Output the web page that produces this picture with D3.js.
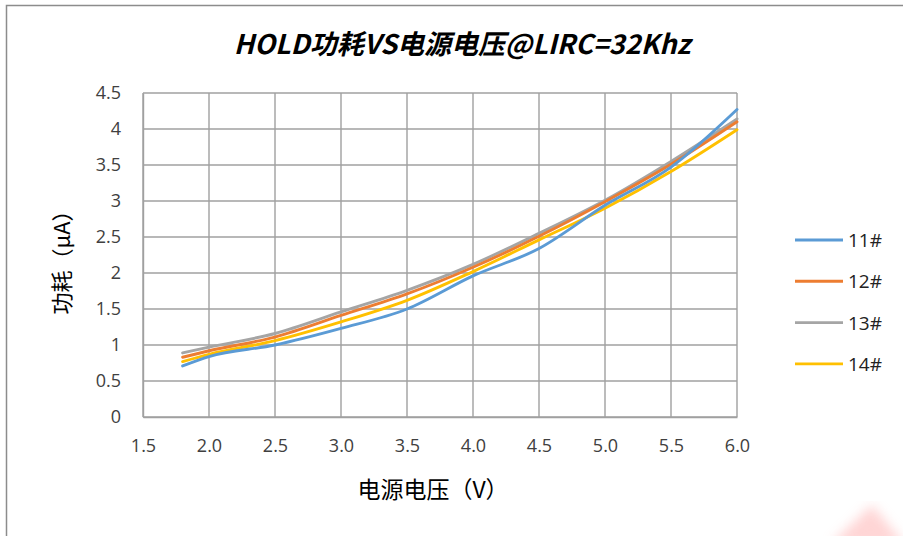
<!DOCTYPE html>
<html><head><meta charset="utf-8">
<script src="https://cdn.jsdelivr.net/npm/d3@7"></script>
<style>body{margin:0;background:#fff}svg{display:block}</style>
</head><body>
<svg id="c" width="903" height="536"></svg>
<script>
const voltages = [1.8, 2.0, 2.5, 3.0, 3.5, 4.0, 4.5, 5.0, 5.5, 6.0];
const s11 = [0.71, 0.84, 1.00, 1.23, 1.50, 1.96, 2.34, 2.94, 3.47, 4.27];
const s12 = [0.83, 0.92, 1.11, 1.41, 1.71, 2.08, 2.51, 2.99, 3.51, 4.10];
const s13 = [0.89, 0.97, 1.16, 1.46, 1.76, 2.12, 2.55, 3.01, 3.55, 4.14];
const s14 = [0.77, 0.87, 1.06, 1.32, 1.62, 2.02, 2.46, 2.90, 3.41, 3.99];
const seriesNames = ["11#", "12#", "13#", "14#"];
const colors = ["#5B9BD5", "#ED7D31", "#A5A5A5", "#FFC000"];
const xTicks = [1.5, 2.0, 2.5, 3.0, 3.5, 4.0, 4.5, 5.0, 5.5, 6.0];
const yTicks = [0, 0.5, 1, 1.5, 2, 2.5, 3, 3.5, 4, 4.5];
const title = "HOLD功耗VS电源电压@LIRC=32Khz";
const xTitle = "电源电压（V）";
const yTitle = "功耗（μA）";

const allSeries = [s11, s12, s13, s14];
const svg = d3.select("#c");
const font = "'Noto Sans CJK SC','Noto Sans',sans-serif";
const numFont = "'Open Sans','Noto Sans',sans-serif";

// faint watermark
const defs = svg.append("defs");
defs.append("filter").attr("id","blur").append("feGaussianBlur").attr("stdDeviation",6);
svg.append("path").attr("d","M830,545 L872,505 L905,545 Z").attr("fill","#ffb3b3").attr("opacity",0.55).attr("filter","url(#blur)");

// outer frame
svg.append("path").attr("d","M6.5,536 L6.5,5.5 L903,5.5").attr("fill","none").attr("stroke","#8c8c8c").attr("stroke-width",1.5);

const x = d3.scaleLinear().domain([1.5, 6.0]).range([143, 737]);
const y = d3.scaleLinear().domain([0, 4.5]).range([417, 93]);

// grid
const g = svg.append("g");
g.selectAll("line.v").data(xTicks).join("line")
  .attr("x1", d => x(d)).attr("x2", d => x(d)).attr("y1", y(0)).attr("y2", y(4.5))
  .attr("stroke", "#a0a0a0").attr("stroke-width", 1.4);
g.selectAll("line.h").data(yTicks).join("line")
  .attr("x1", x(1.5)).attr("x2", x(6.0)).attr("y1", d => y(d)).attr("y2", d => y(d))
  .attr("stroke", "#a0a0a0").attr("stroke-width", 1.4);

// axes
const xAxis = d3.axisBottom(x).tickValues(xTicks).tickFormat(d3.format(".1f")).tickSize(0).tickPadding(22);
const yAxis = d3.axisLeft(y).tickValues(yTicks).tickFormat(d => String(d)).tickSize(0).tickPadding(22);
const gx = svg.append("g").attr("transform", `translate(0,${y(0)})`).call(xAxis);
const gy = svg.append("g").attr("transform", `translate(${x(1.5)},0)`).call(yAxis);
[gx, gy].forEach(a => {
  a.select(".domain").attr("stroke", "#a0a0a0").attr("stroke-width", 1.4);
  a.selectAll("text").attr("fill", "#404040").style("font-family", numFont).style("font-size", "18px");
});

// lines
const line = d3.line().x((d, i) => x(voltages[i])).y(d => y(d)).curve(d3.curveMonotoneX);
const order = [2, 1, 3, 0];
svg.append("g").selectAll("path").data(order).join("path")
  .attr("d", k => line(allSeries[k]))
  .attr("fill", "none").attr("stroke", k => colors[k]).attr("stroke-width", 2.9)
  .attr("stroke-linejoin", "round").attr("stroke-linecap", "round");

// title
svg.append("text").attr("x", 462).attr("y", 54).attr("text-anchor", "middle")
  .style("font-family", font).style("font-size", "27px").style("font-weight", "bold").style("font-style", "italic")
  .attr("fill", "#000").text(title);

// axis titles
svg.append("text").attr("x", 433).attr("y", 498).attr("text-anchor", "middle")
  .style("font-family", font).style("font-size", "23px").attr("fill", "#000").text(xTitle);
svg.append("text").attr("transform", "translate(70,257) rotate(-90)").attr("text-anchor", "middle")
  .style("font-family", font).style("font-size", "22px").attr("fill", "#000").text(yTitle);

// legend
const lg = svg.append("g");
seriesNames.forEach((n, i) => {
  const yy = 240 + i * 41.3;
  lg.append("line").attr("x1", 795).attr("x2", 843).attr("y1", yy).attr("y2", yy)
    .attr("stroke", colors[i]).attr("stroke-width", 2.9);
  lg.append("text").attr("x", 848).attr("y", yy + 7).attr("fill", "#222")
    .style("font-family", numFont).style("font-size", "19px").text(n);
});
</script>
</body></html>
